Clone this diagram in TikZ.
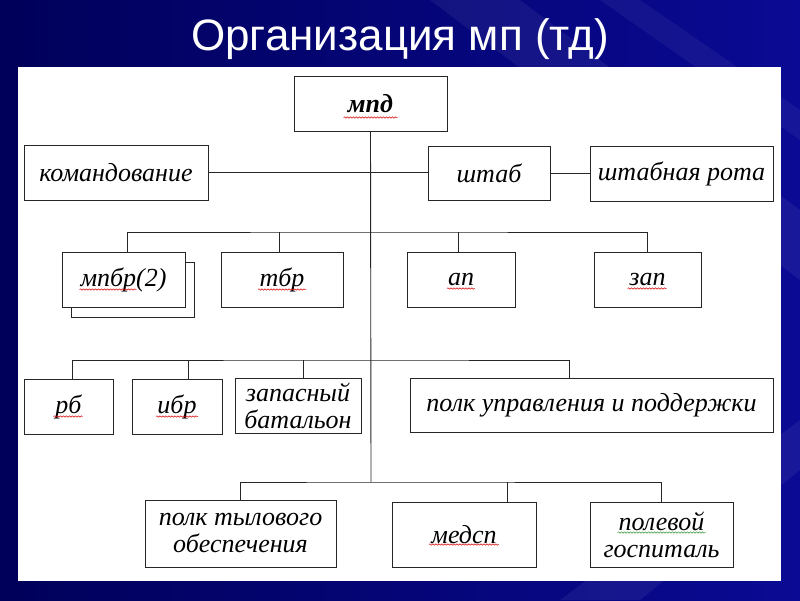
\documentclass[tikz,border=0pt]{standalone}
\usepackage{fontspec}
\setmainfont{Liberation Serif}
\newfontfamily\titlefont{Liberation Sans}
\usepackage{xcolor}
\definecolor{slidedark}{HTML}{00005A}
\definecolor{slideblue}{HTML}{0A0A94}
\definecolor{spellgreen}{HTML}{3A9A3A}
\usetikzlibrary{decorations.pathmorphing}

\begin{document}
\begin{tikzpicture}[x=1pt, y=-1pt,
    unit/.style={draw=black!85, line width=0.9pt, fill=white, inner sep=2pt, align=center,
      font=\fontsize{26}{27}\selectfont\itshape, minimum height=55pt},
    link/.style={draw=black!85, line width=0.9pt},
    spell/.style={red!85!black, line width=0.5pt, decorate,
      decoration={snake, amplitude=0.7pt, segment length=3pt}}]
    \useasboundingbox (0,0) rectangle (800,600);

    % Slide background and panel
    \fill[left color=slidedark, right color=slideblue] (0,0) rectangle (800,600);
    \fill[white, opacity=0.06] (430,0) -- (520,0) -- (800,210) -- (800,280) -- cycle;
    \fill[white, opacity=0.05] (600,0) -- (640,0) -- (800,110) -- (800,140) -- cycle;
    \fill[white, opacity=0.06] (560,600) -- (640,600) -- (800,470) -- (800,420) -- cycle;
    \fill[white] (18,67) rectangle (781,581);
    \node[font=\titlefont\fontsize{44}{44}\selectfont, text=white] (title) at (400,39) {Организация мп (тд)};

    % Units
    \node[unit, minimum width=153pt, font=\fontsize{26}{27}\selectfont\bfseries\itshape] (mpd) at (370.5,103.5) {мпд};
    \node[unit, minimum width=184pt] (komand) at (116,172.5) {командование};
    \node[unit, minimum width=122pt, minimum height=54pt] (shtab) at (489,173) {штаб};
    \node[unit, minimum width=183pt] (rota) at (681.5,173.5) {штабная рота};

    \node[unit, minimum width=123pt] (mpbrback) at (132.5,289.5) {};
    \node[unit, minimum width=123pt] (mpbr) at (123.5,279.5) {мпбр(2)};
    \node[unit, minimum width=122pt] (tbr) at (282,279.5) {тбр};
    \node[unit, minimum width=108pt] (ap) at (461,279.5) {ап};
    \node[unit, minimum width=107pt] (zap) at (647.5,279.5) {зап};

    \node[unit, minimum width=89pt] (rb) at (68.5,406.5) {рб};
    \node[unit, minimum width=90pt] (ibr) at (177,406.5) {ибр};
    \node[unit, minimum width=126pt] (zapbat) at (298,405.5) {запасный\\батальон};
    \node[unit, minimum width=363pt, minimum height=54pt] (polk) at (591.5,405) {полк управления и поддержки};

    \node[unit, minimum width=191pt, minimum height=67pt] (tyl) at (240.5,533.5) {полк тылового\\обеспечения};
    \node[unit, minimum width=144pt, minimum height=65pt] (medsp) at (464,534.5) {медсп};
    \node[unit, minimum width=143pt, minimum height=65pt] (gosp) at (661.5,534.5) {полевой\\госпиталь};

    % Links
    \coordinate (bus2) at (371,232);
    \coordinate (bus3) at (371,360);
    \coordinate (bus4) at (371,482);
    \draw[link] (mpd.south) -- (bus4);
    \draw[link] (komand.east) -- (komand.east -| shtab.west);
    \draw[link] (shtab.east) -- (shtab.east -| rota.west);

    \draw[link] ([xshift=3.5pt]mpbr.north) |- (bus2) -| (zap.north);
    \draw[link] ([xshift=-3pt]tbr.north) -- ([xshift=-3pt]tbr.north |- bus2);
    \draw[link] ([xshift=-3pt]ap.north) -- ([xshift=-3pt]ap.north |- bus2);

    \draw[link] ([xshift=3.5pt]rb.north) |- (bus3) -| ([xshift=-22.5pt]polk.north);
    \draw[link] ([xshift=11pt]ibr.north) -- ([xshift=11pt]ibr.north |- bus3);
    \draw[link] ([xshift=5pt]zapbat.north) -- ([xshift=5pt]zapbat.north |- bus3);

    \draw[link] (tyl.north) |- (bus4) -| (gosp.north);
    \draw[link] ([xshift=43pt]medsp.north) -- ([xshift=43pt]medsp.north |- bus4);

    % Spell-check marks
    \draw[spell] ([shift={(-27,14)}]mpd.center) -- ++(54,0);
    \draw[spell] ([shift={(-44,10)}]mpbr.center) -- ++(57,0);
    \draw[spell] ([shift={(-24,10)}]tbr.center) -- ++(48,0);
    \draw[spell] ([shift={(-14,9)}]ap.center) -- ++(28,0);
    \draw[spell] ([shift={(-20,9)}]zap.center) -- ++(39,0);
    \draw[spell] ([shift={(-15,10)}]rb.center) -- ++(29,0);
    \draw[spell] ([shift={(-21,10)}]ibr.center) -- ++(42,0);
    \draw[spell] ([shift={(-35,10)}]medsp.center) -- ++(70,0);
    \draw[spell, spellgreen] ([shift={(-44,-2)}]gosp.center) -- ++(88,0);
\end{tikzpicture}
\end{document}
